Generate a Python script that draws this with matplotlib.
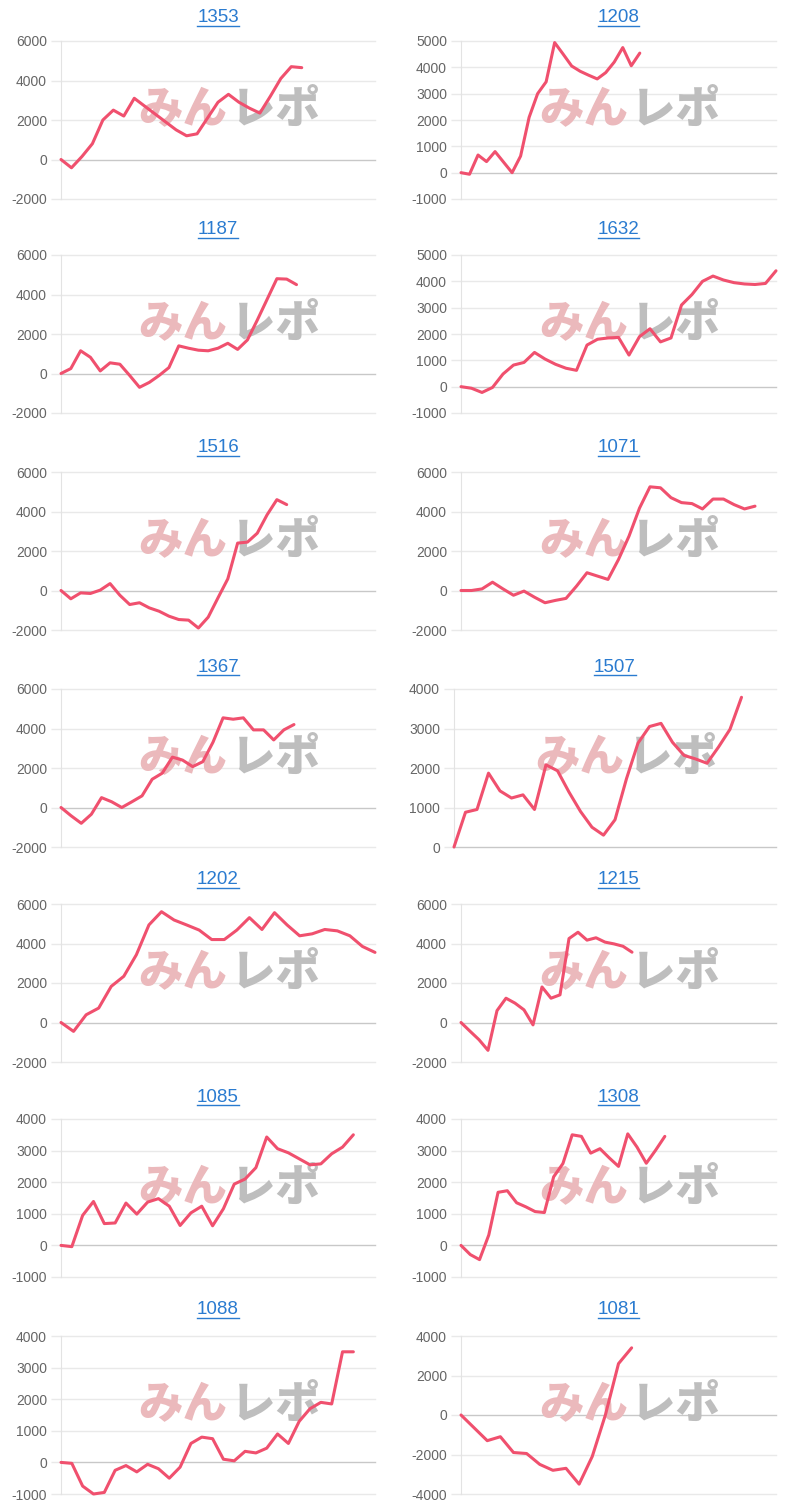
import matplotlib.pyplot as plt
from matplotlib.lines import Line2D

plt.rcParams['font.family'] = ['Liberation Sans', 'DejaVu Sans']
plt.rcParams['axes.unicode_minus'] = False

# chart titles, left column then right column, row by row
titles = ['1353', '1208', '1187', '1632', '1516', '1071', '1367',
          '1507', '1202', '1215', '1085', '1308', '1088', '1081']

# daily balance series
s1353 = [0, -420, 150, 800, 2000, 2500, 2200, 3100, 2700, 2300, 1900, 1500,
         1200, 1300, 2100, 2900, 3300, 2900, 2600, 2350, 3200, 4100, 4700, 4650]
s1208 = [0, -60, 670, 420, 800, 400, 0, 630, 2100, 3000, 3450, 4940, 4500,
         4050, 3850, 3700, 3560, 3800, 4200, 4750, 4060, 4540]
s1187 = [0, 250, 1150, 820, 130, 540, 470, -100, -700, -450, -100, 300, 1400,
         1280, 1180, 1150, 1280, 1530, 1220, 1700, 2700, 3750, 4800, 4780, 4500]
s1632 = [0, -60, -220, -30, 480, 820, 920, 1300, 1050, 850, 700, 620, 1580,
         1800, 1850, 1870, 1200, 1900, 2200, 1700, 1850, 3100, 3500, 4000,
         4200, 4050, 3950, 3900, 3880, 3920, 4400]
s1516 = [0, -420, -120, -150, 20, 350, -240, -710, -620, -880, -1050, -1300,
         -1470, -1500, -1900, -1350, -370, 590, 2400, 2450, 2900, 3830, 4600, 4350]
s1071 = [0, 0, 80, 420, 80, -240, -30, -340, -620, -500, -400, 220, 900, 730,
         560, 1570, 2750, 4170, 5250, 5200, 4700, 4450, 4400, 4130, 4630, 4630,
         4350, 4130, 4270]
s1367 = [0, -420, -800, -340, 500, 290, 0, 290, 590, 1430, 1740, 2550, 2400,
         2070, 2320, 3300, 4540, 4470, 4540, 3930, 3930, 3420, 3930, 4200]
s1507 = [0, 880, 950, 1870, 1420, 1240, 1320, 950, 2080, 1930, 1390, 900, 500,
         300, 690, 1730, 2630, 3050, 3130, 2650, 2320, 2230, 2120, 2530, 2980, 3790]
s1202 = [0, -450, 390, 730, 1830, 2340, 3430, 4940, 5610, 5190, 4940, 4680,
         4200, 4200, 4680, 5310, 4710, 5560, 4940, 4390, 4490, 4710, 4640, 4390,
         3850, 3550]
s1215 = [0, -440, -870, -1410, 600, 1230, 980, 640, -120, 1800, 1230, 1400,
         4250, 4570, 4170, 4290, 4070, 3980, 3860, 3560]
s1085 = [0, -40, 950, 1390, 690, 710, 1340, 990, 1370, 1480, 1240, 630, 1030,
         1240, 620, 1160, 1940, 2100, 2460, 3430, 3060, 2930, 2740, 2550, 2580,
         2900, 3110, 3500]
s1308 = [0, -290, -450, 330, 1680, 1730, 1350, 1220, 1070, 1040, 2170, 2590,
         3500, 3450, 2920, 3060, 2770, 2500, 3530, 3110, 2600, 3010, 3450]
s1088 = [0, -30, -750, -1000, -950, -250, -100, -300, -60, -200, -500, -150,
         600, 800, 750, 100, 50, 350, 300, 450, 900, 600, 1300, 1700, 1900,
         1850, 3500, 3500]
s1081 = [0, -650, -1300, -1100, -1900, -1950, -2500, -2800, -2700, -3500,
         -2100, 0, 2600, 3400]

series = [s1353, s1208, s1187, s1632, s1516, s1071, s1367,
          s1507, s1202, s1215, s1085, s1308, s1088, s1081]

# number of day slots on each x axis
x_slots = [30, 37, 32, 30, 32, 30, 31, 28, 25, 35, 29, 34, 29, 24]

# y axis: min, max, step
y_axes = [(-2000, 6000, 2000), (-1000, 5000, 1000), (-2000, 6000, 2000),
          (-1000, 5000, 1000), (-2000, 6000, 2000), (-2000, 6000, 2000),
          (-2000, 6000, 2000), (0, 4000, 1000), (-2000, 6000, 2000),
          (-2000, 6000, 2000), (-1000, 4000, 1000), (-1000, 4000, 1000),
          (-1000, 4000, 1000), (-4000, 4000, 2000)]

W, H = 800, 1512
row_tops = [41, 255, 472, 689, 904, 1119, 1336]
title_y = [18, 230, 448, 667, 880, 1097, 1310]
plot_h = 158

fig = plt.figure(figsize=(W / 100, H / 100), dpi=100)
fig.patch.set_facecolor('white')

title_texts = []
for k in range(len(titles)):
    row, col = k // 2, k % 2
    if col == 0:
        left, right = 61, 375
    else:
        left, right = 461, 776
        if y_axes[k][0] >= 0:
            left = 454
    top = row_tops[row]
    ax = fig.add_axes([left / W, 1 - (top + plot_h) / H,
                       (right - left) / W, plot_h / H])

    lo, hi, step = y_axes[k]
    ticks = list(range(lo, hi + 1, step))
    ax.set_ylim(lo, hi)
    ax.set_yticks(ticks)
    ax.set_xlim(0, x_slots[k])
    ax.set_xticks([])
    for t in ticks:
        c = '#c8c8c8' if t == 0 else '#e9e9e9'
        ax.axhline(t, color=c, lw=1, zorder=0.5, clip_on=False)
    ax.tick_params(axis='y', length=7, width=1, color='#e9e9e9', pad=3,
                   labelsize=10, labelcolor='#666666')
    for side in ['top', 'right', 'bottom']:
        ax.spines[side].set_visible(False)
    ax.spines['left'].set_color('#e3e3e3')

    # watermark
    ax.text(0.53, 0.565, 'みん', transform=ax.transAxes, ha='right',
            va='center', fontsize=32, fontweight='heavy', color='#ebb9bc',
            family=['Noto Sans CJK JP'], zorder=1)
    ax.text(0.54, 0.565, 'レポ', transform=ax.transAxes, ha='left',
            va='center', fontsize=32, fontweight='heavy', color='#bebebe',
            family=['Noto Sans CJK JP'], zorder=1)

    ax.plot(range(len(series[k])), series[k], color='#f0506e', lw=2.2,
            solid_joinstyle='round', solid_capstyle='round', zorder=3,
            clip_on=False)

    cx = (left + right) / 2 / W
    t = fig.text(cx, 1 - title_y[row] / H, titles[k], ha='center',
                 va='center', fontsize=13.5, color='#2a7bd0')
    title_texts.append(t)

# underline the titles like links
renderer = fig.canvas.get_renderer()
for t in title_texts:
    bb = t.get_window_extent(renderer)
    y = (bb.y0 + 1) / H
    fig.add_artist(Line2D([bb.x0 / W, bb.x1 / W], [y, y],
                          transform=fig.transFigure, color='#2a7bd0', lw=1))

fig.savefig('out.png', dpi=100)
